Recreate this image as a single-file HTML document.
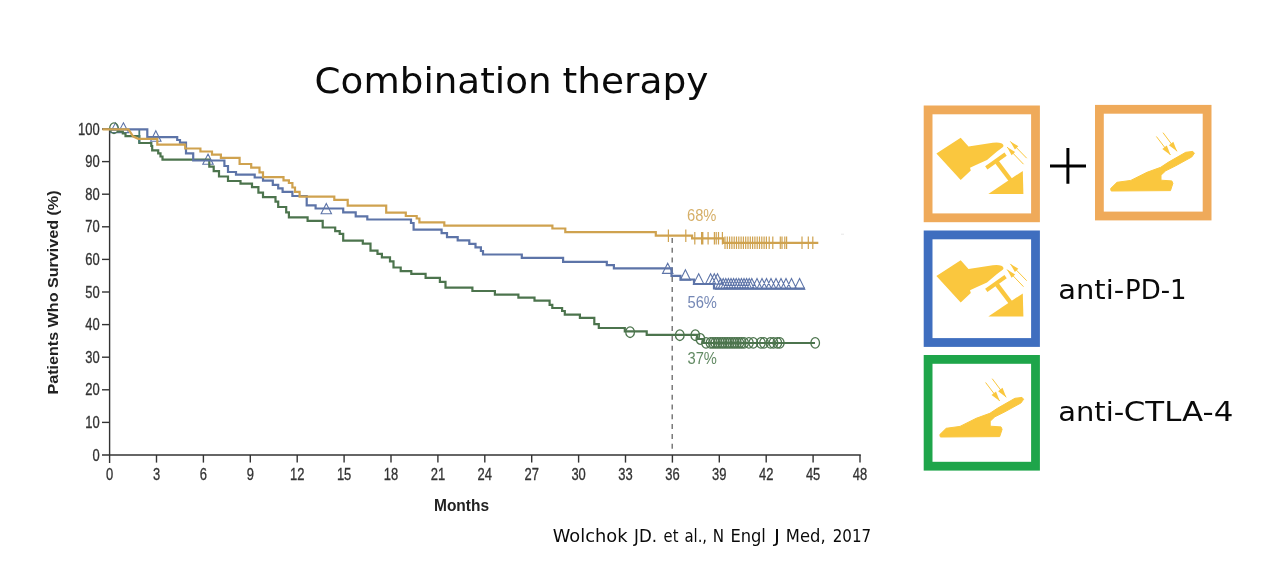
<!DOCTYPE html>
<html lang="en"><head><meta charset="utf-8"><title>Combination therapy</title>
<style>
html,body{margin:0;padding:0;background:#fff;}
body{width:1267px;height:561px;overflow:hidden;font-family:"Liberation Sans",sans-serif;}
svg{display:block}
text{font-family:"Liberation Sans",sans-serif;}
.ax{fill:#333;font-size:15.6px;stroke:#333;stroke-width:0.3px;}
.geo{fill:#0a0a0a;font-family:"DejaVu Sans","Liberation Sans",sans-serif;}
</style></head><body>
<svg width="1267" height="561" viewBox="0 0 1267 561">
<rect width="1267" height="561" fill="#fff"/>

<text class="geo" y="93" font-size="36.3"><tspan x="314.6" textLength="237" lengthAdjust="spacingAndGlyphs">Combination</tspan> <tspan x="562.5" textLength="146" lengthAdjust="spacingAndGlyphs">therapy</tspan></text>
<g stroke="#333" stroke-width="1.4" fill="none">
<path d="M109.6 128.5V463"/>
<path d="M102 455H860.8"/>
<path d="M156.5 455V462.6"/>
<path d="M203.4 455V462.6"/>
<path d="M250.3 455V462.6"/>
<path d="M297.2 455V462.6"/>
<path d="M344.1 455V462.6"/>
<path d="M391.0 455V462.6"/>
<path d="M437.9 455V462.6"/>
<path d="M484.8 455V462.6"/>
<path d="M531.7 455V462.6"/>
<path d="M578.6 455V462.6"/>
<path d="M625.5 455V462.6"/>
<path d="M672.4 455V462.6"/>
<path d="M719.3 455V462.6"/>
<path d="M766.2 455V462.6"/>
<path d="M813.1 455V462.6"/>
<path d="M860.0 455V462.6"/>
<path d="M102 422.4H110"/>
<path d="M102 389.8H110"/>
<path d="M102 357.2H110"/>
<path d="M102 324.6H110"/>
<path d="M102 292.0H110"/>
<path d="M102 259.4H110"/>
<path d="M102 226.8H110"/>
<path d="M102 194.2H110"/>
<path d="M102 161.6H110"/>
<path d="M102 129.0H110"/>
</g>
<g class="ax">
<text transform="translate(99.6 460.6) scale(0.83 1)" text-anchor="end">0</text>
<text transform="translate(99.6 428.0) scale(0.83 1)" text-anchor="end">10</text>
<text transform="translate(99.6 395.4) scale(0.83 1)" text-anchor="end">20</text>
<text transform="translate(99.6 362.8) scale(0.83 1)" text-anchor="end">30</text>
<text transform="translate(99.6 330.2) scale(0.83 1)" text-anchor="end">40</text>
<text transform="translate(99.6 297.6) scale(0.83 1)" text-anchor="end">50</text>
<text transform="translate(99.6 265.0) scale(0.83 1)" text-anchor="end">60</text>
<text transform="translate(99.6 232.4) scale(0.83 1)" text-anchor="end">70</text>
<text transform="translate(99.6 199.8) scale(0.83 1)" text-anchor="end">80</text>
<text transform="translate(99.6 167.2) scale(0.83 1)" text-anchor="end">90</text>
<text transform="translate(99.6 134.6) scale(0.83 1)" text-anchor="end">100</text>
<text transform="translate(109.6 480.2) scale(0.83 1)" text-anchor="middle">0</text>
<text transform="translate(156.5 480.2) scale(0.83 1)" text-anchor="middle">3</text>
<text transform="translate(203.4 480.2) scale(0.83 1)" text-anchor="middle">6</text>
<text transform="translate(250.3 480.2) scale(0.83 1)" text-anchor="middle">9</text>
<text transform="translate(297.2 480.2) scale(0.83 1)" text-anchor="middle">12</text>
<text transform="translate(344.1 480.2) scale(0.83 1)" text-anchor="middle">15</text>
<text transform="translate(391.0 480.2) scale(0.83 1)" text-anchor="middle">18</text>
<text transform="translate(437.9 480.2) scale(0.83 1)" text-anchor="middle">21</text>
<text transform="translate(484.8 480.2) scale(0.83 1)" text-anchor="middle">24</text>
<text transform="translate(531.7 480.2) scale(0.83 1)" text-anchor="middle">27</text>
<text transform="translate(578.6 480.2) scale(0.83 1)" text-anchor="middle">30</text>
<text transform="translate(625.5 480.2) scale(0.83 1)" text-anchor="middle">33</text>
<text transform="translate(672.4 480.2) scale(0.83 1)" text-anchor="middle">36</text>
<text transform="translate(719.3 480.2) scale(0.83 1)" text-anchor="middle">39</text>
<text transform="translate(766.2 480.2) scale(0.83 1)" text-anchor="middle">42</text>
<text transform="translate(813.1 480.2) scale(0.83 1)" text-anchor="middle">45</text>
<text transform="translate(860.0 480.2) scale(0.83 1)" text-anchor="middle">48</text>
</g>
<text transform="translate(57.6 292.5) rotate(-90) scale(1.04 1)" text-anchor="middle" font-size="15.5" font-weight="bold" fill="#222">Patients Who Survived (%)</text>
<text transform="translate(461.5 510.8) scale(0.94 1.03)" text-anchor="middle" font-size="16.5" font-weight="bold" fill="#222">Months</text>
<text class="geo" y="542" font-size="17"><tspan x="552.8" textLength="74.7" lengthAdjust="spacingAndGlyphs">Wolchok</tspan> <tspan x="634.1" textLength="23.0" lengthAdjust="spacingAndGlyphs">JD.</tspan> <tspan x="663.6" textLength="14.8" lengthAdjust="spacingAndGlyphs">et</tspan> <tspan x="684.4" textLength="22.7" lengthAdjust="spacingAndGlyphs">al.,</tspan> <tspan x="712.8" textLength="11.3" lengthAdjust="spacingAndGlyphs">N</tspan> <tspan x="730.4" textLength="35.5" lengthAdjust="spacingAndGlyphs">Engl</tspan> <tspan x="774.1" textLength="6.0" lengthAdjust="spacingAndGlyphs">J</tspan> <tspan x="785.8" textLength="39.8" lengthAdjust="spacingAndGlyphs">Med,</tspan> <tspan x="832.7" textLength="38.4" lengthAdjust="spacingAndGlyphs">2017</tspan></text>
<path d="M672.2 237.9V449" stroke="#666" stroke-width="1.3" stroke-dasharray="5 4.8" fill="none"/>
<path d="M668.4 229.5v12.4M685.8 229.5v12.4M694.8 232.1v12.4M701.6 232.1v12.4M702.8 232.1v12.4M708.1 232.1v12.4M714.4 232.1v12.4M716.2 232.1v12.4M718.5 232.1v12.4M722.4 232.1v12.4M725.0 236.6v12.4M727.3 236.6v12.4M729.6 236.6v12.4M731.9 236.6v12.4M734.2 236.6v12.4M736.5 236.6v12.4M738.8 236.6v12.4M741.1 236.6v12.4M743.4 236.6v12.4M745.7 236.6v12.4M748.0 236.6v12.4M750.3 236.6v12.4M752.6 236.6v12.4M754.9 236.6v12.4M757.2 236.6v12.4M759.5 236.6v12.4M761.8 236.6v12.4M764.1 236.6v12.4M766.4 236.6v12.4M769.2 236.6v12.4M772.8 236.6v12.4M780.3 236.6v12.4M782.0 236.6v12.4M784.8 236.6v12.4M786.6 236.6v12.4M802.0 236.6v12.4M808.3 236.6v12.4M812.8 236.6v12.4" stroke="#CFA24F" stroke-width="1.2" fill="none"/>
<path d="M115.5 122.8L120.7 132.6H110.3ZM123.4 122.8L128.6 132.6H118.2ZM155.8 130.8L161.0 141.2H150.6ZM208.0 154.1L213.2 164.3H202.8ZM326.3 203.4L331.5 213.8H321.1ZM667.7 263.2L672.9 273.4H662.5ZM685.4 269.8L690.6 280.2H680.2ZM698.7 273.8L703.9 284.1H693.5ZM710.6 273.8L715.8 284.1H705.4ZM714.3 273.8L719.5 284.1H709.1ZM717.5 273.8L722.7 284.1H712.3ZM720.6 278.4L725.8 289.1H715.4ZM723.2 278.4L728.4 289.1H718.0ZM725.8 278.4L731.0 289.1H720.6ZM728.4 278.4L733.6 289.1H723.2ZM731.0 278.4L736.2 289.1H725.8ZM733.6 278.4L738.8 289.1H728.4ZM736.2 278.4L741.4 289.1H731.0ZM738.8 278.4L744.0 289.1H733.6ZM741.4 278.4L746.6 289.1H736.2ZM744.0 278.4L749.2 289.1H738.8ZM746.6 278.4L751.8 289.1H741.4ZM749.2 278.4L754.4 289.1H744.0ZM751.8 278.4L757.0 289.1H746.6ZM757.0 278.4L762.2 289.1H751.8ZM762.0 278.4L767.2 289.1H756.8ZM766.5 278.4L771.7 289.1H761.3ZM771.0 278.4L776.2 289.1H765.8ZM776.0 278.4L781.2 289.1H770.8ZM781.0 278.4L786.2 289.1H775.8ZM786.0 278.4L791.2 289.1H780.8ZM791.5 278.4L796.7 289.1H786.3ZM799.6 278.4L804.8 289.1H794.4Z" stroke="#5D74A8" stroke-width="1.1" fill="none" stroke-linejoin="miter"/>
<g stroke="#4C744D" stroke-width="1.3" fill="none">
<ellipse cx="114.0" cy="128.2" rx="4.3" ry="5.3"/>
<ellipse cx="630.1" cy="332.2" rx="4.3" ry="5.3"/>
<ellipse cx="679.8" cy="335.2" rx="4.3" ry="5.3"/>
<ellipse cx="695.3" cy="335.2" rx="4.3" ry="5.3"/>
<ellipse cx="700.4" cy="339.0" rx="4.3" ry="5.3"/>
<ellipse cx="706.0" cy="342.9" rx="4.3" ry="5.3"/>
<ellipse cx="710.5" cy="342.9" rx="4.3" ry="5.3"/>
<ellipse cx="712.9" cy="342.9" rx="4.3" ry="5.3"/>
<ellipse cx="715.3" cy="342.9" rx="4.3" ry="5.3"/>
<ellipse cx="717.7" cy="342.9" rx="4.3" ry="5.3"/>
<ellipse cx="720.1" cy="342.9" rx="4.3" ry="5.3"/>
<ellipse cx="722.5" cy="342.9" rx="4.3" ry="5.3"/>
<ellipse cx="724.9" cy="342.9" rx="4.3" ry="5.3"/>
<ellipse cx="727.3" cy="342.9" rx="4.3" ry="5.3"/>
<ellipse cx="729.7" cy="342.9" rx="4.3" ry="5.3"/>
<ellipse cx="732.1" cy="342.9" rx="4.3" ry="5.3"/>
<ellipse cx="734.5" cy="342.9" rx="4.3" ry="5.3"/>
<ellipse cx="736.9" cy="342.9" rx="4.3" ry="5.3"/>
<ellipse cx="739.3" cy="342.9" rx="4.3" ry="5.3"/>
<ellipse cx="741.7" cy="342.9" rx="4.3" ry="5.3"/>
<ellipse cx="744.1" cy="342.9" rx="4.3" ry="5.3"/>
<ellipse cx="748.9" cy="342.9" rx="4.3" ry="5.3"/>
<ellipse cx="753.3" cy="342.9" rx="4.3" ry="5.3"/>
<ellipse cx="760.9" cy="342.9" rx="4.3" ry="5.3"/>
<ellipse cx="764.0" cy="342.9" rx="4.3" ry="5.3"/>
<ellipse cx="770.4" cy="342.9" rx="4.3" ry="5.3"/>
<ellipse cx="773.5" cy="342.9" rx="4.3" ry="5.3"/>
<ellipse cx="777.3" cy="342.9" rx="4.3" ry="5.3"/>
<ellipse cx="779.8" cy="342.9" rx="4.3" ry="5.3"/>
<ellipse cx="815.2" cy="342.9" rx="4.3" ry="5.3"/>
</g>
<g fill="none" stroke-width="2.2" stroke-linejoin="miter">
<path stroke="#4C744D" d="M109.6 129.3H118.0V131.5H122.8V133.5H125.5V136.2H139.3V143.0H151.3V146.0H152.2V150.4H158.2V153.3H160.5V156.5H162.5V159.6H209.3V166.7H213.7V171.1H219.0V176.5H228.0V181.0H240.5V183.6H252.0V187.2H258.4V192.6H263.0V197.2H275.5V201.7H278.2V207.0H286.2V212.4H288.9V217.4H307.6V220.9H322.7V227.5H335.2V231.1H339.7V233.8H343.2V240.6H362.8V243.6H370.5V250.6H377.5V253.8H381.9V257.4H390.0V261.3H393.5V267.5H400.7V271.1H411.3V273.8H425.6V277.9H439.9V281.8H445.5V287.6H472.4V291.0H494.9V294.6H518.4V297.6H534.5V300.7H549.6V304.8H552.3V308.0H562.1V311.0H564.8V314.6H579.9V317.8H594.3V324.2H598.8V328.0H624.8V331.4H646.7V334.8H697.5V339.0H703.0V343.0H815.0V343.0"/>
<path stroke="#477C78" stroke-width="1.8" d="M139.3 130V143"/>
<path stroke="#5D74A8" d="M109.6 129.3H147.3V137.2H177.2V140.0H180.0V142.6H186.0V153.3H193.2V160.5H224.4V166.0H228.0V172.0H236.0V174.7H254.7V177.5H263.0V180.7H272.8V184.8H278.2V188.3H282.6V191.9H292.4V196.0H306.7V205.3H315.6V208.5H343.2V212.4H355.7V216.3H367.3V219.5H411.0V223.0H413.6V229.6H441.6V233.1H447.0V237.2H457.7V240.4H469.3V243.8H475.5V247.4H480.9V251.0H483.0V254.5H521.8V257.9H563.1V261.9H606.8V265.1H613.9V268.3H671.5V275.8H680.5V279.5H694.0V284.0H714.0V288.5H805.0V288.5"/>
<path stroke="#CFA24F" d="M102.5 129.3H128.5V129.3L133.0 136.3L138.3 138.8H157.3V144.6H185.2V148.5H200.4V151.5H212.0V154.6H220.9V157.8H239.6V164.0H251.2V167.6H259.5V172.3H263.0V177.1H283.5V180.3H288.9V183.0H292.4V187.5H295.0V191.9H299.6V196.7H334.3V199.9H347.7V205.6H386.2V212.7H405.8V216.0H416.7V218.5H419.4V222.4H444.3V225.7H552.4V228.5H565.3V232.1H655.8V235.7H692.1V238.3H723.3V242.8H818.3V242.8"/>
</g>
<g font-size="16">
<text transform="translate(687 220.8) scale(0.92 1)" fill="#D6AF68">68%</text>
<text transform="translate(687.5 307.5) scale(0.92 1)" fill="#7487B5">56%</text>
<text transform="translate(687.5 363.5) scale(0.92 1)" fill="#628A63">37%</text>
</g>
<rect x="841" y="233.6" width="3" height="1.4" fill="#eee"/>
<rect x="928.1" y="109.9" width="107.4" height="107.9" fill="none" stroke="#EFAA5A" stroke-width="8.8"/>
<rect x="1099.4" y="109.3" width="107.7" height="106.7" fill="none" stroke="#EFAA5A" stroke-width="8.8"/>
<rect x="928.1" y="234.9" width="107.4" height="107.6" fill="none" stroke="#3F6EBF" stroke-width="8.8"/>
<rect x="928.1" y="359.4" width="107.4" height="106.8" fill="none" stroke="#1EA54A" stroke-width="8.8"/>
<path d="M1050 165.9H1086M1067.9 148V183.8" stroke="#000" stroke-width="3" fill="none"/>
<g fill="#FAC73E" stroke="none">
<path d="M936.4 153.5L960.7 137.8L968.5 146.4L992.8 142.8Q998 142 1001.3 143.3Q1004.5 144.8 1003 147L997 151.6L987 160L977 164.4L970 167.8L970.8 170.6L960.7 180Z"/>
<path d="M986.3 167.8L1005.6 154.2" stroke="#FAC73E" stroke-width="4" fill="none"/>
<path d="M997 162.1L1010.5 180" stroke="#FAC73E" stroke-width="4.4" fill="none"/>
<path d="M988.3 194L1022.8 170.9L1023.4 194Z"/>
<path d="M1007.1 147.1L1023.5 164.2" stroke="#FAC73E" stroke-width="1" fill="none"/>
<path d="M1007.1 147.1L1011.6 155.3L1015.1 151.9Z"/>
<path d="M1010.3 141.4L1026.7 158.2" stroke="#FAC73E" stroke-width="1" fill="none"/>
<path d="M1010.3 141.4L1014.9 149.5L1018.3 146.2Z"/>
</g>
<g fill="#FAC73E" stroke="none" transform="translate(0 122.5)">
<path d="M936.4 153.5L960.7 137.8L968.5 146.4L992.8 142.8Q998 142 1001.3 143.3Q1004.5 144.8 1003 147L997 151.6L987 160L977 164.4L970 167.8L970.8 170.6L960.7 180Z"/>
<path d="M986.3 167.8L1005.6 154.2" stroke="#FAC73E" stroke-width="4" fill="none"/>
<path d="M997 162.1L1010.5 180" stroke="#FAC73E" stroke-width="4.4" fill="none"/>
<path d="M988.3 194L1022.8 170.9L1023.4 194Z"/>
<path d="M1007.1 147.1L1023.5 164.2" stroke="#FAC73E" stroke-width="1" fill="none"/>
<path d="M1007.1 147.1L1011.6 155.3L1015.1 151.9Z"/>
<path d="M1010.3 141.4L1026.7 158.2" stroke="#FAC73E" stroke-width="1" fill="none"/>
<path d="M1010.3 141.4L1014.9 149.5L1018.3 146.2Z"/>
</g>
<g fill="#FAC73E" stroke="none">
<path stroke="#FAC73E" stroke-width="1" stroke-linejoin="round" d="M1111.2 191L1110.6 188.6L1117 182.3L1130.8 180.4L1147 172.3L1160.7 167.3L1168.2 162.3L1185.7 152.3L1192.8 151.4L1194.4 153.3L1191.7 157L1175.7 165.8L1165.7 170.8L1161 175.2L1161 180.2L1171.8 180.9L1172.9 183.3L1170.5 190.6Z"/>
<path d="M1170.5 155.0L1156.4 136.5" stroke="#FAC73E" stroke-width="1" fill="none"/>
<path d="M1170.5 155.0L1166.8 145.5L1162.3 148.9Z"/>
<path d="M1177.0 151.3L1163.0 132.7" stroke="#FAC73E" stroke-width="1" fill="none"/>
<path d="M1177.0 151.3L1173.3 141.8L1168.9 145.2Z"/>
</g>
<g fill="#FAC73E" stroke="none" transform="translate(-170.8 246)">
<path stroke="#FAC73E" stroke-width="1" stroke-linejoin="round" d="M1111.2 191L1110.6 188.6L1117 182.3L1130.8 180.4L1147 172.3L1160.7 167.3L1168.2 162.3L1185.7 152.3L1192.8 151.4L1194.4 153.3L1191.7 157L1175.7 165.8L1165.7 170.8L1161 175.2L1161 180.2L1171.8 180.9L1172.9 183.3L1170.5 190.6Z"/>
<path d="M1170.5 155.0L1156.4 136.5" stroke="#FAC73E" stroke-width="1" fill="none"/>
<path d="M1170.5 155.0L1166.8 145.5L1162.3 148.9Z"/>
<path d="M1177.0 151.3L1163.0 132.7" stroke="#FAC73E" stroke-width="1" fill="none"/>
<path d="M1177.0 151.3L1173.3 141.8L1168.9 145.2Z"/>
</g>
<text class="geo" y="299" font-size="26.5"><tspan x="1058.2" textLength="66" lengthAdjust="spacingAndGlyphs">anti-</tspan><tspan x="1125" textLength="61.5" lengthAdjust="spacingAndGlyphs">PD-1</tspan></text>
<text class="geo" y="420.5" font-size="26.5"><tspan x="1058.2" textLength="66" lengthAdjust="spacingAndGlyphs">anti-</tspan><tspan x="1123.8" textLength="109.5" lengthAdjust="spacingAndGlyphs">CTLA-4</tspan></text>
</svg></body></html>
